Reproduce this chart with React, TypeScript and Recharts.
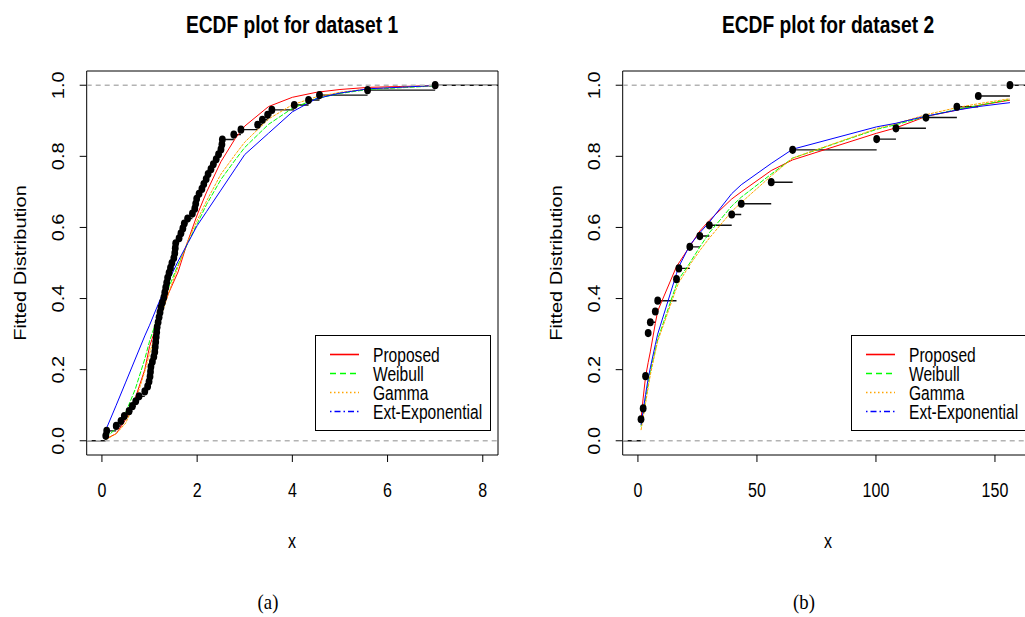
import {
  ComposedChart,
  Line,
  ReferenceArea,
  Scatter,
  XAxis,
  YAxis,
} from "recharts";

// dataset 1: sorted sample read from the ECDF steps (n = 72)
const SAMPLE_1 = [
  0.08, 0.1, 0.3, 0.4, 0.47, 0.57, 0.64, 0.71, 0.78, 0.9, 0.96, 0.99, 1.01,
  1.02, 1.03, 1.06, 1.09, 1.11, 1.12, 1.13, 1.14, 1.15, 1.16, 1.18, 1.2, 1.22,
  1.24, 1.27, 1.3, 1.32, 1.34, 1.36, 1.38, 1.41, 1.44, 1.47, 1.51, 1.53, 1.54,
  1.55, 1.62, 1.66, 1.7, 1.73, 1.8, 1.9, 1.95, 1.97, 1.99, 2.04, 2.1, 2.14,
  2.19, 2.23, 2.29, 2.34, 2.4, 2.45, 2.5, 2.52, 2.53, 2.77, 2.92, 3.27, 3.37,
  3.48, 3.57, 4.04, 4.34, 4.57, 5.58, 7.0,
];
// fitted CDFs for dataset 1
const GRID_1 = [
  0.08, 0.3, 0.5, 0.7, 0.9, 1.0, 1.2, 1.4, 1.6, 1.8, 2.0, 2.2, 2.5, 2.8, 3.0,
  3.5, 4.0, 4.5, 5.0, 5.6, 7.0,
];
const PROPOSED_1 = [
  0.005, 0.02, 0.06, 0.12, 0.2, 0.265, 0.345, 0.415, 0.475, 0.56, 0.635, 0.7,
  0.785, 0.85, 0.885, 0.94, 0.966, 0.98, 0.988, 0.994, 0.999,
];
const WEIBULL_1 = [
  0.008, 0.035, 0.08, 0.145, 0.23, 0.28, 0.36, 0.43, 0.495, 0.555, 0.61, 0.665,
  0.735, 0.79, 0.825, 0.89, 0.935, 0.962, 0.977, 0.988, 0.998,
];
const GAMMA_1 = [
  0.003, 0.02, 0.05, 0.11, 0.195, 0.245, 0.335, 0.415, 0.49, 0.56, 0.62, 0.675,
  0.75, 0.805, 0.84, 0.905, 0.945, 0.967, 0.98, 0.99, 0.999,
];
const EXTEXP_1 = [
  0.03, 0.1, 0.165, 0.23, 0.295, 0.325, 0.39, 0.45, 0.505, 0.555, 0.605, 0.645,
  0.705, 0.765, 0.805, 0.865, 0.925, 0.962, 0.978, 0.99, 0.999,
];

// dataset 2: sorted sample with ties (n = 33)
const SAMPLE_2 = [
  1.3, 1.3, 2.2, 3.2, 3.2, 3.2, 4.3, 4.3, 4.3, 4.3, 5.2, 7.3, 8.3, 16.2, 16.2,
  17.2, 21.8, 21.8, 26, 30, 39.4, 43.4, 56, 56, 65, 65, 65, 100.3, 108.4, 121,
  134, 143, 156.3,
];
const GRID_2 = [
  1.3, 2.2, 3.2, 4.3, 5.2, 7.3, 8.3, 16.2, 17.2, 21.8, 26, 30, 39.4, 43.4, 56,
  65, 100.3, 108.4, 121, 134, 143, 156.3,
];
const PROPOSED_2 = [
  0.06, 0.12, 0.18, 0.22, 0.25, 0.33, 0.365, 0.49, 0.5, 0.547, 0.59, 0.62, 0.68,
  0.7, 0.76, 0.79, 0.865, 0.88, 0.912, 0.93, 0.943, 0.958,
];
const WEIBULL_2 = [
  0.04, 0.075, 0.115, 0.16, 0.195, 0.255, 0.285, 0.44, 0.455, 0.5, 0.545,
  0.585, 0.66, 0.685, 0.75, 0.795, 0.876, 0.889, 0.912, 0.932, 0.943, 0.96,
];
const GAMMA_2 = [
  0.03, 0.065, 0.105, 0.15, 0.185, 0.25, 0.28, 0.43, 0.445, 0.495, 0.535, 0.57,
  0.645, 0.67, 0.745, 0.795, 0.878, 0.892, 0.917, 0.937, 0.948, 0.962,
];
const EXTEXP_2 = [
  0.045, 0.085, 0.13, 0.175, 0.205, 0.27, 0.3, 0.47, 0.49, 0.55, 0.585, 0.615,
  0.695, 0.72, 0.78, 0.82, 0.883, 0.893, 0.913, 0.93, 0.94, 0.951,
];

const X_TICKS_1 = [0, 2, 4, 6, 8];
const X_TICKS_2 = [0, 50, 100, 150];
const Y_TICKS = [0, 0.2, 0.4, 0.6, 0.8, 1.0];
const REF_LEVELS = [0, 1];
const SERIES_NAMES = ["Proposed", "Weibull", "Gamma", "Ext-Exponential"];

const COLORS = ["#ff0000", "#00ff00", "#ffa500", "#0000ff"];
const PLOT_DASH = [undefined, "5 1.5", "3 1", undefined];
const LEGEND_DASH = [undefined, "6 4", "1.5 2.5", "1.5 3 6 3"];

const FONT = "'Liberation Sans', Arial, Helvetica, sans-serif";
const SQ = 0.8; // horizontal squeeze of the source figure
const Y_DOMAIN: [number, number] = [-0.04, 1.04];

type Pt = { x: number; y: number | null };

/** distinct values of a sorted sample with their ECDF heights */
function ecdf(sample: number[]): { x: number; y: number }[] {
  const n = sample.length;
  const out: { x: number; y: number }[] = [];
  sample.forEach((v, i) => {
    if (i + 1 < n && sample[i + 1] === v) return;
    out.push({ x: v, y: (i + 1) / n });
  });
  return out;
}

/** horizontal step segments, separated by null gaps */
function stepSegments(pts: { x: number; y: number }[], lo: number, hi: number) {
  const out: Pt[] = [
    { x: lo, y: 0 },
    { x: pts[0].x, y: 0 },
    { x: pts[0].x, y: null },
  ];
  pts.forEach((p, i) => {
    const next = i < pts.length - 1 ? pts[i + 1].x : hi;
    out.push({ x: p.x, y: p.y }, { x: next, y: p.y }, { x: next, y: null });
  });
  return out;
}

const XTick = (props: any) => {
  const { x, y, payload } = props;
  return (
    <g transform={`translate(${x},${y + 35}) scale(${SQ},1)`}>
      <text textAnchor="middle" fontSize={20} fontFamily={FONT} fill="#000">
        {payload.value}
      </text>
    </g>
  );
};

const YTick = (props: any) => {
  const { x, y, payload } = props;
  return (
    <g transform={`translate(${x - 15.5},${y}) scale(${SQ},1) rotate(-90)`}>
      <text textAnchor="middle" fontSize={20} fontFamily={FONT} fill="#000">
        {Number(payload.value).toFixed(1)}
      </text>
    </g>
  );
};

interface PanelProps {
  left: number;
  title: string;
  caption: string;
  sample: number[];
  grid: number[];
  curves: number[][];
  xDomain: [number, number];
  xTicks: number[];
}

function Panel({ left, title, caption, sample, grid, curves, xDomain, xTicks }: PanelProps) {
  const pts = ecdf(sample);
  const steps = stepSegments(pts, xDomain[0], xDomain[1]);
  const rows = grid.map((x, i) => {
    const r: Record<string, number> = { x };
    curves.forEach((c, k) => (r[`c${k}`] = c[i]));
    return r;
  });
  const cx = 292;

  return (
    <div style={{ position: "absolute", left, top: 0, width: 540, height: 617 }}>
      <ComposedChart
        width={540}
        height={617}
        margin={{ top: 71, right: 42, bottom: 122, left: 46.7 }}
      >
        <XAxis
          type="number"
          dataKey="x"
          domain={xDomain}
          ticks={xTicks}
          allowDataOverflow
          axisLine={false}
          tickLine={{ stroke: "#000" }}
          tickSize={7}
          tickMargin={0}
          height={40}
          tick={<XTick />}
        />
        <YAxis
          type="number"
          dataKey="y"
          domain={Y_DOMAIN}
          ticks={Y_TICKS}
          allowDataOverflow
          axisLine={false}
          tickLine={{ stroke: "#000" }}
          tickSize={7}
          tickMargin={0}
          width={40}
          tick={<YTick />}
        />
        <ReferenceArea
          x1={xDomain[0]}
          x2={xDomain[1]}
          y1={Y_DOMAIN[0]}
          y2={Y_DOMAIN[1]}
          fill="none"
          fillOpacity={0}
          stroke="#000"
          strokeWidth={1}
          ifOverflow="visible"
        />
        <Line
          data={steps}
          dataKey="y"
          stroke="#111"
          strokeWidth={1.4}
          dot={false}
          connectNulls={false}
          isAnimationActive={false}
        />
        {curves.map((_, k) => (
          <Line
            key={k}
            data={rows}
            dataKey={`c${k}`}
            type="linear"
            stroke={COLORS[k]}
            strokeWidth={1}
            strokeDasharray={PLOT_DASH[k]}
            dot={false}
            isAnimationActive={false}
          />
        ))}
        {REF_LEVELS.map((h) => (
          <Line
            key={`ref${h}`}
            data={[
              { x: xDomain[0], y: h },
              { x: xDomain[1], y: h },
            ]}
            dataKey="y"
            stroke="#b3b3b3"
            strokeWidth={1.4}
            strokeDasharray="5 4"
            dot={false}
            isAnimationActive={false}
          />
        ))}
        <Scatter
          data={pts}
          fill="#000"
          isAnimationActive={false}
          shape={(p: any) => (
            <ellipse cx={p.cx} cy={p.cy} rx={3.4} ry={4.1} fill="#000" />
          )}
        />
      </ComposedChart>

      <svg
        width={540}
        height={617}
        style={{ position: "absolute", left: 0, top: 0, pointerEvents: "none" }}
        fontFamily={FONT}
      >
        <g transform={`translate(${cx},33) scale(${SQ},1)`}>
          <text textAnchor="middle" fontSize={24} fontWeight="bold" fill="#000">
            {title}
          </text>
        </g>
        <g transform={`translate(26,263) scale(${SQ},1) rotate(-90)`}>
          <text textAnchor="middle" fontSize={20} fill="#000">
            Fitted Distribution
          </text>
        </g>
        <g transform={`translate(${cx},548) scale(${SQ},1)`}>
          <text textAnchor="middle" fontSize={20} fill="#000">
            x
          </text>
        </g>
        <g transform={`translate(268,609) scale(0.85,1)`}>
          <text
            textAnchor="middle"
            fontSize={22}
            fontFamily="'Liberation Serif', 'DejaVu Serif', serif"
            fill="#000"
          >
            {caption}
          </text>
        </g>
        <rect x={315.5} y={335.5} width={175} height={95} fill="#fff" stroke="#000" />
        {SERIES_NAMES.map((name, k) => {
          const ly = 354.5 + k * 19;
          return (
            <g key={name}>
              <line
                x1={330}
                x2={359}
                y1={ly}
                y2={ly}
                stroke={COLORS[k]}
                strokeWidth={1.6}
                strokeDasharray={LEGEND_DASH[k]}
              />
              <g transform={`translate(373,${ly + 7}) scale(${SQ},1)`}>
                <text fontSize={19.5} fill="#000">
                  {name}
                </text>
              </g>
            </g>
          );
        })}
      </svg>
    </div>
  );
}

export default function App() {
  return (
    <div
      style={{
        position: "absolute",
        left: 0,
        top: 0,
        width: 1025,
        height: 617,
        overflow: "hidden",
        background: "#fff",
      }}
    >
      <Panel
        left={0}
        title="ECDF plot for dataset 1"
        caption="(a)"
        sample={SAMPLE_1}
        grid={GRID_1}
        curves={[PROPOSED_1, WEIBULL_1, GAMMA_1, EXTEXP_1]}
        xDomain={[-0.32, 8.32]}
        xTicks={X_TICKS_1}
      />
      <Panel
        left={536}
        title="ECDF plot for dataset 2"
        caption="(b)"
        sample={SAMPLE_2}
        grid={GRID_2}
        curves={[PROPOSED_2, WEIBULL_2, GAMMA_2, EXTEXP_2]}
        xDomain={[-6.4, 166.4]}
        xTicks={X_TICKS_2}
      />
    </div>
  );
}
